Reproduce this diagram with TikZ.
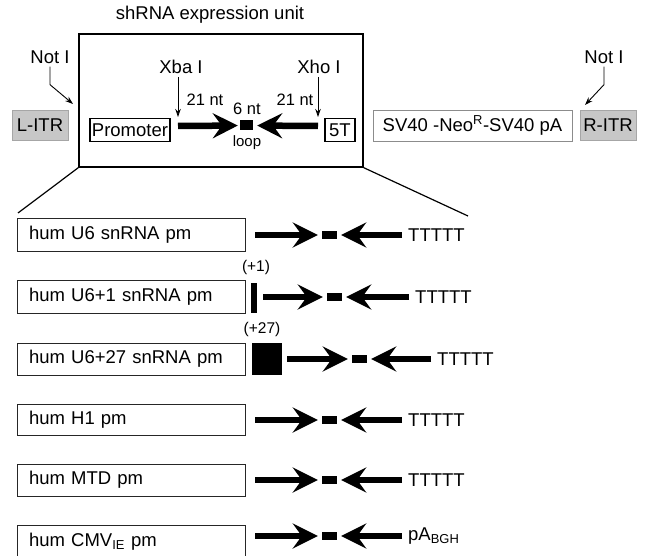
\documentclass[tikz,border=0pt]{standalone}
\usepackage{fontspec}
\setmainfont{Liberation Sans}
\usetikzlibrary{arrows.meta,positioning}

\begin{document}
\begin{tikzpicture}[x=1pt, y=-1pt,
      every node/.style={font=\fontsize{18.5}{22}\selectfont, inner sep=3pt},
      sm/.style={font=\fontsize{15.5}{18}\selectfont},
      nt/.style={font=\fontsize{16.5}{20}\selectfont},
      lbl/.style={font=\fontsize{15}{17}\selectfont},
      unitbox/.style={draw, line width=1.3pt, minimum width=284pt, minimum height=133pt},
      pm/.style={draw, line width=1.1pt, minimum height=23pt, inner xsep=2pt, inner ysep=0pt},
      itr/.style={draw=black!35, fill=black!22, minimum width=56pt, minimum height=30pt, inner sep=0pt},
      neo/.style={draw=black!45, line width=0.8pt, minimum width=199pt, minimum height=31pt},
      rowbox/.style={draw=black!85, line width=0.9pt, minimum height=33pt, text width=204pt,
                     inner xsep=12pt, align=left},
      lp/.style={fill=black, inner sep=0pt, minimum width=15pt, minimum height=8pt},
      blk/.style={fill=black, inner sep=0pt},
      tt/.style={anchor=west, inner xsep=6pt},
      sa/.style={line width=6.5pt, -{Stealth[length=25pt, width=25pt, inset=9pt]}, shorten >=4pt},
      pa/.style={line width=0.9pt, -{Stealth[length=8pt, width=5.5pt]}},
      zoomln/.style={line width=1.2pt}
    ]
    \useasboundingbox (0,0) rectangle (645,556);
    % expression unit
    \node (title) at (210,15) {shRNA expression unit};
    \node[unitbox] (unit) at (221,100.5) {};
    \node[pm] (prom) at (130,130) {Promoter};
    \node[pm, minimum width=30pt] (fiveT) at (340,130) {5T};
    \node[lp, minimum width=13pt, minimum height=10pt] (lp0) at (246.5,125.5) {};
    \node (xba) at (181,67) {Xba I};
    \node (xho) at (319,67) {Xho I};
    \node[nt] (nta) at (205,100) {21 nt};
    \node[nt] (ntb) at (295,100) {21 nt};
    \node[nt] (nt6) at (247,109) {6 nt};
    \node[lbl] (lpname) at (247,143) {loop};
    \coordinate (a0) at (178,126);
    \coordinate (b0) at (318,126);
    \coordinate (xbt) at (178,117);
    \coordinate (xht) at (318,117);
    % flanking parts
    \node (notl) at (50,57) {Not I};
    \node (notr) at (604,57) {Not I};
    \coordinate (nlt) at (73,104);
    \coordinate (nrt) at (585,105);
    \node[itr] (litr) at (40,125) {L-ITR};
    \node[itr] (ritr) at (608,125.5) {R-ITR};
    \node[neo] (neo) at (472.5,125.5) {SV40 -Neo\textsuperscript{R}-SV40 pA};
    % zoom lines
    \coordinate (zl) at (18,213);
    \coordinate (zr) at (468,216);
    % promoters
    \node[rowbox] (r1) at (131,235) {hum U6 snRNA pm};
    \node[rowbox] (r2) at (131,296.5) {hum U6+1 snRNA pm};
    \node[rowbox, minimum height=32pt] (r3) at (131,359) {hum U6+27 snRNA pm};
    \node[rowbox, minimum height=31pt] (r4) at (131,419.5) {hum H1 pm};
    \node[rowbox, minimum height=32pt] (r5) at (131,480) {hum MTD pm};
    \node[rowbox] (r6) at (131,541.5) {hum CMV\textsubscript{IE} pm};
    \node[sm] (p1) at (256,267) {(+1)};
    \node[blk, minimum width=6pt, minimum height=30pt] (bar) at (254,298) {};
    \node[sm] (p27) at (262,329) {(+27)};
    \node[blk, minimum width=30pt, minimum height=32pt] (sq) at (267,359) {};
    % hairpins
    \node[lp] (lp1) at (329.5,235) {};
    \node[lp] (lp2) at (334.5,297) {};
    \node[lp] (lp3) at (359.5,359) {};
    \node[lp] (lp4) at (329.5,420) {};
    \node[lp] (lp5) at (329.5,480) {};
    \node[lp] (lp6) at (329.5,536) {};
    \coordinate (a1) at (255,235);
    \coordinate (a2) at (263,297);
    \coordinate (a3) at (287,359);
    \coordinate (a4) at (255,420);
    \coordinate (a5) at (255,480);
    \coordinate (a6) at (255,536);
    \node[tt] (t1) at (402,235) {TTTTT};
    \node[tt] (t2) at (409,297) {TTTTT};
    \node[tt] (t3) at (431,359) {TTTTT};
    \node[tt] (t4) at (402,420) {TTTTT};
    \node[tt] (t5) at (402,480) {TTTTT};
    \node[tt] (t6) at (402,536) {pA\textsubscript{BGH}};
    % connectors
    \draw[sa, shorten >=2pt] (a0) -- (lp0); \draw[sa] (b0) -- (lp0);
    \draw[pa] (xba.south -| xbt) -- (xbt); \draw[pa] (xho.south -| xht) -- (xht);
    \draw[pa] (notl.south) -- ++(0,18) -- (nlt);
    \draw[pa] (notr.south) -- ++(0,18) -- (nrt);
    \draw[zoomln] (unit.south west) -- (zl); \draw[zoomln] (unit.south east) -- (zr);
    \draw[sa] (a1) -- (lp1); \draw[sa] (t1.west) -- (lp1);
    \draw[sa] (a2) -- (lp2); \draw[sa] (t2.west) -- (lp2);
    \draw[sa] (a3) -- (lp3); \draw[sa] (t3.west) -- (lp3);
    \draw[sa] (a4) -- (lp4); \draw[sa] (t4.west) -- (lp4);
    \draw[sa] (a5) -- (lp5); \draw[sa] (t5.west) -- (lp5);
    \draw[sa] (a6) -- (lp6); \draw[sa] (t6.west) -- (lp6);
  \end{tikzpicture}
\end{document}
